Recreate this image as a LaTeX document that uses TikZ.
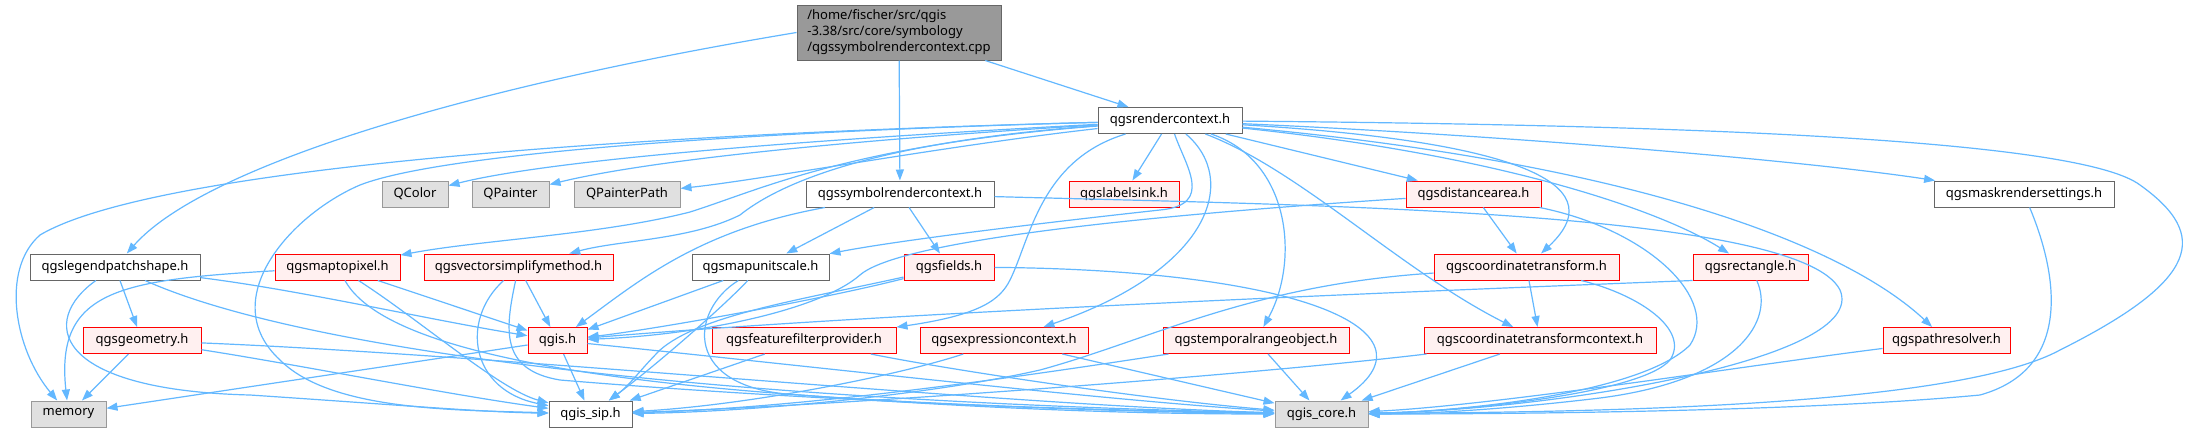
\documentclass[tikz,border=0pt]{standalone}
\usepackage{fontspec}
\setmainfont{Noto Sans}
\usetikzlibrary{arrows.meta}
\definecolor{edgeblue}{HTML}{63B8FF}
\definecolor{boxgray}{HTML}{666666}
\definecolor{extgray}{HTML}{999999}
\definecolor{extfill}{HTML}{E0E0E0}
\definecolor{redfill}{HTML}{FFF0F0}
\definecolor{rootfill}{HTML}{999999}

\begin{document}
\begin{tikzpicture}[x=1pt,y=-1pt,
    every node/.style={font=\fontsize{13}{16}\selectfont, inner sep=0pt, minimum height=26pt, line width=1pt},
    hfile/.style={draw=boxgray, fill=white},
    hred/.style={draw=red, fill=redfill},
    hsys/.style={draw=extgray, fill=extfill},
    hroot/.style={draw=boxgray, fill=rootfill, align=left, inner xsep=5pt, minimum height=55pt},
    dep/.style={draw=edgeblue, line width=1.2pt, -{Triangle[length=11pt,width=8pt]}}]
    \fill[white] (0,0) rectangle (2196,432);
    \useasboundingbox (0,0) rectangle (2196,432);
    % fichier source
    \node[hroot, minimum width=204pt] (root) at (899,32.5) {/home/fischer/src/qgis\\-3.38/src/core/symbology\\/qgssymbolrendercontext.cpp};
    % en-tetes simples
    \foreach \n/\x/\y/\w/\t in {rctx/1170/120.5/144/qgsrendercontext.h, symb/900/194/188/qgssymbolrendercontext.h,
        mask/2024/194/180/qgsmaskrendersettings.h, legend/115/267/170/qgslegendpatchshape.h,
        mus/760.5/267/137/qgsmapunitscale.h, sip/590.5/414/83/qgis\_sip.h}
    \node[hfile, minimum width=\w pt] (\n) at (\x,\y) {\t};
    % en-tetes tronques
    \foreach \n/\x/\y/\w/\t in {labelsink/1124/194/110/qgslabelsink.h, dist/1473.5/194/135/qgsdistancearea.h,
        mtp/337.5/267/125/qgsmaptopixel.h, vsimp/518.5/267/189/qgsvectorsimplifymethod.h,
        fields/949/267/90/qgsfields.h, ct/1526.5/267/185/qgscoordinatetransform.h,
        rect/1750.5/267/115/qgsrectangle.h, geom/142/340.5/118/qgsgeometry.h, qgis/557.5/340.5/59/qgis.h,
        ffp/804/340.5/184/qgsfeaturefilterprovider.h, expr/1004/340.5/168/qgsexpressioncontext.h,
        temporal/1256/340.5/186/qgstemporalrangeobject.h, ctc/1540/340.5/232/qgscoordinatetransformcontext.h,
        pathres/1946.5/340.5/127/qgspathresolver.h}
    \node[hred, minimum width=\w pt] (\n) at (\x,\y) {\t};
    % en-tetes systeme
    \foreach \n/\x/\y/\w/\t in {qcolor/415/194/66/QColor, qpainter/510.5/194/77/QPainter,
        qpath/627/194/106/QPainterPath, memory/68.5/414/75/memory, core/1321.5/414/93/qgis\_core.h}
    \node[hsys, minimum width=\w pt] (\n) at (\x,\y) {\t};

    % depuis le fichier source
    \draw[dep] (root.west) .. controls (450,90) and (200,170) .. (legend);
    \draw[dep] (root) -- (symb);
    \draw[dep] (root) -- (rctx);

    % depuis qgsrendercontext.h
    \draw[dep] (rctx) .. controls (600,135) and (150,170) .. (40,235) .. controls (0,270) and (15,350) .. (memory);
    \draw[dep] (rctx) .. controls (800,140) and (550,160) .. (qcolor);
    \draw[dep] (rctx) .. controls (850,140) and (650,160) .. (qpainter);
    \draw[dep] (rctx) .. controls (950,145) and (760,180) .. (qpath);
    \draw[dep] (rctx) .. controls (850,145) and (760,190) .. (690,212) .. controls (600,235) and (480,240) .. (mtp);
    \draw[dep] (rctx) .. controls (900,140) and (790,175) .. (740,215) .. controls (690,240) and (620,240) .. (vsimp);
    \draw[dep] (rctx) .. controls (800,130) and (450,150) .. (360,185) .. controls (290,215) and (215,300) .. (280,360) .. controls (330,410) and (450,410) .. (sip);
    \draw[dep] (rctx) -- (labelsink);
    \draw[dep] (rctx) .. controls (1185,165) and (1215,205) .. (1160,210) .. controls (1050,222) and (900,240) .. (mus);
    \draw[dep] (rctx) .. controls (1040,160) and (1030,240) .. (1010,280) .. controls (1000,300) and (980,315) .. (ffp);
    \draw[dep] (rctx) .. controls (1240,180) and (1210,270) .. (expr);
    \draw[dep] (rctx) .. controls (1290,160) and (1300,260) .. (temporal);
    \draw[dep] (rctx) -- (dist);
    \draw[dep] (rctx) .. controls (1500,140) and (1620,180) .. (ct);
    \draw[dep] (rctx) .. controls (1300,170) and (1400,270) .. (ctc);
    \draw[dep] (rctx) .. controls (1500,155) and (1660,210) .. (rect);
    \draw[dep] (rctx) .. controls (1650,165) and (1850,250) .. (pathres);
    \draw[dep] (rctx) .. controls (1500,135) and (1800,160) .. (mask);
    \draw[dep] (rctx) .. controls (1700,125) and (2080,140) .. (2140,185) .. controls (2210,235) and (2200,280) .. (2060,350) .. controls (1950,410) and (1550,412) .. (core);

    % depuis qgssymbolrendercontext.h
    \draw[dep] (symb) -- (mus);
    \draw[dep] (symb) -- (fields);
    \draw[dep] (symb) .. controls (700,230) and (640,280) .. (qgis);
    \draw[dep] (symb) .. controls (1300,205) and (1800,210) .. (1840,290) .. controls (1870,360) and (1550,410) .. (core);

    % niveau 3
    \draw[dep] (legend) -- (geom);
    \draw[dep] (legend) .. controls (40,320) and (50,390) .. (250,395) .. controls (400,405) and (480,412) .. (sip);
    \draw[dep] (legend) .. controls (300,290) and (430,320) .. (qgis);
    \draw[dep] (legend) .. controls (300,350) and (700,400) .. (core);
    \draw[dep] (mtp) .. controls (120,280) and (55,290) .. (memory);
    \draw[dep] (mtp) -- (qgis);
    \draw[dep] (mtp) .. controls (420,320) and (500,390) .. (sip);
    \draw[dep] (mtp) .. controls (400,380) and (800,405) .. (core);
    \draw[dep] (vsimp) -- (qgis);
    \draw[dep] (vsimp) .. controls (460,320) and (470,390) .. (sip);
    \draw[dep] (vsimp) .. controls (505,330) and (500,370) .. (560,380) .. controls (800,400) and (1100,412) .. (core);
    \draw[dep] (mus) -- (qgis);
    \draw[dep] (mus) .. controls (720,310) and (650,370) .. (sip);
    \draw[dep] (mus) .. controls (690,310) and (680,390) .. (800,395) .. controls (1000,410) and (1150,414) .. (core);
    \draw[dep] (fields) .. controls (820,300) and (650,330) .. (qgis);
    \draw[dep] (fields) .. controls (800,300) and (700,315) .. (660,350) .. controls (640,370) and (630,385) .. (sip);
    \draw[dep] (fields) .. controls (1300,270) and (1440,330) .. (core);
    \draw[dep] (dist) -- (ct);
    \draw[dep] (dist) .. controls (1150,215) and (900,240) .. (860,275) .. controls (820,310) and (700,335) .. (qgis);
    \draw[dep] (dist) .. controls (1650,230) and (1720,300) .. (1690,345) .. controls (1640,395) and (1450,412) .. (core);
    \draw[dep] (ct) -- (ctc);
    \draw[dep] (ct) .. controls (1250,285) and (1150,340) .. (1040,370) .. controls (930,395) and (750,412) .. (sip);
    \draw[dep] (ct) .. controls (1640,295) and (1690,330) .. (1670,360) .. controls (1640,395) and (1450,412) .. (core);
    \draw[dep] (rect.south west) .. controls (1400,292) and (900,312) .. (qgis);
    \draw[dep] (rect) .. controls (1775,320) and (1740,380) .. (1600,398) .. controls (1500,410) and (1420,414) .. (core);

    % niveau 4
    \draw[dep] (geom) -- (memory);
    \draw[dep] (geom) .. controls (300,365) and (450,395) .. (sip);
    \draw[dep] (geom) .. controls (500,355) and (1000,405) .. (core);
    \draw[dep] (qgis) -- (memory);
    \draw[dep] (qgis) -- (sip);
    \draw[dep] (qgis) .. controls (800,365) and (1100,400) .. (core);
    \draw[dep] (ffp) -- (sip);
    \draw[dep] (ffp) .. controls (950,370) and (1150,400) .. (core);
    \draw[dep] (expr) .. controls (900,375) and (750,405) .. (sip);
    \draw[dep] (temporal) .. controls (1000,380) and (800,408) .. (sip);
    \draw[dep] (ctc) .. controls (1250,375) and (850,405) .. (sip);
    \foreach \s in {expr,temporal,ctc}
    \draw[dep] (\s) -- (core);
    \draw[dep] (pathres) .. controls (1750,365) and (1500,405) .. (core);
    \draw[dep] (mask) .. controls (2060,280) and (2070,370) .. (1980,395) .. controls (1800,412) and (1500,414) .. (core);
\end{tikzpicture}
\end{document}
